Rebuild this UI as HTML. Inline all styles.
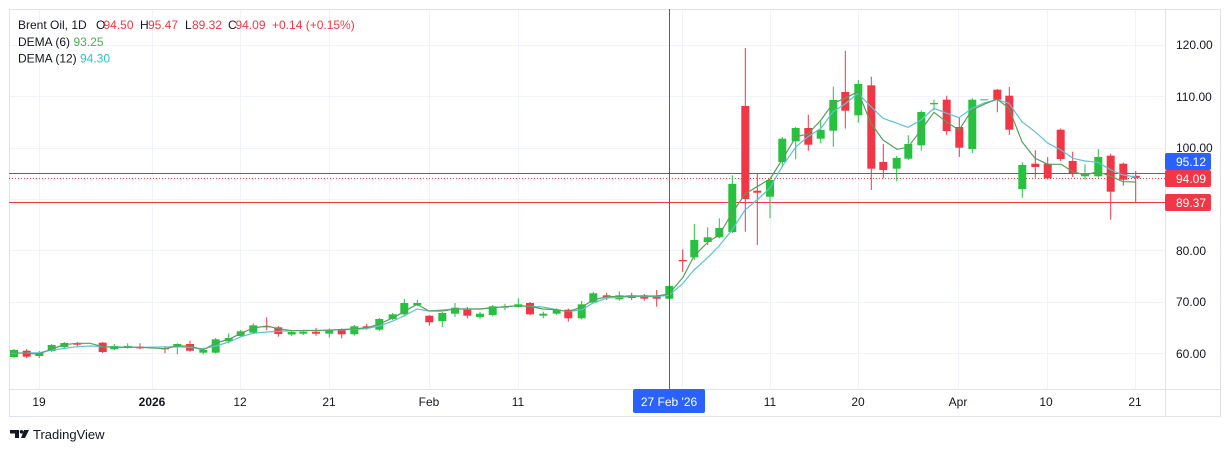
<!DOCTYPE html>
<html><head><meta charset="utf-8"><style>
html,body{margin:0;padding:0;background:#fff;}
svg{display:block;font-family:"Liberation Sans",Arial,sans-serif;}
</style></head><body>
<svg width="1231" height="452" viewBox="0 0 1231 452" xmlns="http://www.w3.org/2000/svg">
<rect width="1231" height="452" fill="#fff"/>
<!-- grid -->
<g stroke="#f0f3fa" stroke-width="1">
<line x1="9" x2="1165" y1="45.5" y2="45.5"/>
<line x1="9" x2="1165" y1="96.5" y2="96.5"/>
<line x1="9" x2="1165" y1="148.5" y2="148.5"/>
<line x1="9" x2="1165" y1="199.5" y2="199.5"/>
<line x1="9" x2="1165" y1="250.5" y2="250.5"/>
<line x1="9" x2="1165" y1="302.5" y2="302.5"/>
<line x1="9" x2="1165" y1="353.5" y2="353.5"/>
<line x1="39.5" x2="39.5" y1="9" y2="389"/>
<line x1="152.5" x2="152.5" y1="9" y2="389"/>
<line x1="240.5" x2="240.5" y1="9" y2="389"/>
<line x1="329.5" x2="329.5" y1="9" y2="389"/>
<line x1="429.5" x2="429.5" y1="9" y2="389"/>
<line x1="518.5" x2="518.5" y1="9" y2="389"/>
<line x1="682.5" x2="682.5" y1="9" y2="389"/>
<line x1="770.5" x2="770.5" y1="9" y2="389"/>
<line x1="858.5" x2="858.5" y1="9" y2="389"/>
<line x1="958.5" x2="958.5" y1="9" y2="389"/>
<line x1="1047.5" x2="1047.5" y1="9" y2="389"/>
<line x1="1135.5" x2="1135.5" y1="9" y2="389"/>
</g>
<!-- frame -->
<rect x="9.5" y="9.5" width="1211" height="407" fill="none" stroke="#e0e3eb"/>
<line x1="1165.5" x2="1165.5" y1="9" y2="417" stroke="#e0e3eb"/>
<line x1="9" x2="1221" y1="389.5" y2="389.5" stroke="#e0e3eb"/>
<!-- price lines -->
<line x1="9" x2="1165" y1="173.5" y2="173.5" stroke="#2962ff" stroke-width="1"/>
<line x1="9" x2="1165" y1="178.5" y2="178.5" stroke="#f23645" stroke-width="1" stroke-dasharray="1,2"/>
<line x1="9" x2="1165" y1="202.5" y2="202.5" stroke="#f23645" stroke-width="1"/>
<!-- green candles -->
<g fill="#26c13d" stroke="#26c13d">
<g stroke-width="1">
<line x1="14" x2="14" y1="349" y2="358"/><line x1="39.3" x2="39.3" y1="351" y2="358"/><line x1="51.7" x2="51.7" y1="344" y2="352"/><line x1="64.3" x2="64.3" y1="342" y2="348"/>
<line x1="114.3" x2="114.3" y1="344" y2="350"/><line x1="127.7" x2="127.7" y1="343.3" y2="348.7"/><line x1="177.3" x2="177.3" y1="343.3" y2="354.3"/><line x1="203.3" x2="203.3" y1="347.7" y2="354.3"/>
<line x1="215.7" x2="215.7" y1="338" y2="353.5"/><line x1="228.7" x2="228.7" y1="333.3" y2="343.3"/><line x1="240.7" x2="240.7" y1="330" y2="337"/><line x1="253.3" x2="253.3" y1="323.3" y2="334"/>
<line x1="291.7" x2="291.7" y1="331" y2="336"/><line x1="303.3" x2="303.3" y1="330" y2="335"/><line x1="329.3" x2="329.3" y1="328.5" y2="337.7"/><line x1="354.3" x2="354.3" y1="325" y2="335.5"/>
<line x1="379.3" x2="379.3" y1="318" y2="331"/><line x1="392.7" x2="392.7" y1="313" y2="320"/><line x1="404.3" x2="404.3" y1="299" y2="316.3"/><line x1="417.3" x2="417.3" y1="299.7" y2="306.3"/>
<line x1="442.3" x2="442.3" y1="312" y2="327"/><line x1="455" x2="455" y1="303" y2="317"/><line x1="480" x2="480" y1="311.7" y2="319"/><line x1="492.7" x2="492.7" y1="305" y2="316.3"/>
<line x1="505" x2="505" y1="303.7" y2="310.3"/><line x1="518.3" x2="518.3" y1="298.3" y2="307.7"/><line x1="543.3" x2="543.3" y1="311.7" y2="318.3"/><line x1="556.7" x2="556.7" y1="308.5" y2="315"/>
<line x1="581.7" x2="581.7" y1="301" y2="319.5"/><line x1="593.3" x2="593.3" y1="292" y2="303.5"/><line x1="619.3" x2="619.3" y1="291.3" y2="300.7"/><line x1="669.3" x2="669.3" y1="285" y2="299.5"/>
<line x1="694.3" x2="694.3" y1="224" y2="260"/><line x1="707.7" x2="707.7" y1="227.3" y2="245.3"/><line x1="719.3" x2="719.3" y1="218.3" y2="238.3"/><line x1="732.3" x2="732.3" y1="175.3" y2="233"/>
<line x1="770" x2="770" y1="179" y2="218.3"/><line x1="782.3" x2="782.3" y1="137" y2="167"/><line x1="795.7" x2="795.7" y1="127" y2="159.3"/><line x1="820.7" x2="820.7" y1="121.3" y2="143.3"/>
<line x1="833.3" x2="833.3" y1="86.7" y2="146.7"/><line x1="858.3" x2="858.3" y1="80" y2="122.7"/><line x1="896.7" x2="896.7" y1="156" y2="181.3"/><line x1="908.3" x2="908.3" y1="135.3" y2="160"/>
<line x1="921.3" x2="921.3" y1="110.5" y2="150.7"/><line x1="934" x2="934" y1="99.7" y2="110.3"/><line x1="972.3" x2="972.3" y1="98.3" y2="153"/><line x1="1022.3" x2="1022.3" y1="162.3" y2="197.7"/>
<line x1="1085" x2="1085" y1="164.3" y2="179.7"/><line x1="1098.3" x2="1098.3" y1="149" y2="177.5"/>
</g>
<g stroke="none">
<rect x="10" y="350" width="8" height="7"/><rect x="35.3" y="352.7" width="8" height="3.3"/><rect x="47.7" y="345" width="8" height="6"/><rect x="60.3" y="343" width="8" height="4"/>
<rect x="110.3" y="346" width="8" height="3.3"/><rect x="123.7" y="346" width="8" height="2"/><rect x="173.3" y="344" width="8" height="3.3"/><rect x="199.3" y="350" width="8" height="2.7"/>
<rect x="211.7" y="339.3" width="8" height="13.4"/><rect x="224.7" y="338" width="8" height="3.3"/><rect x="236.7" y="331.3" width="8" height="4.7"/><rect x="249.3" y="325.3" width="8" height="7.4"/>
<rect x="287.7" y="332" width="8" height="2.5"/><rect x="299.3" y="331.7" width="8" height="2"/><rect x="325.3" y="329.7" width="8" height="4"/><rect x="350.3" y="326.3" width="8" height="8"/>
<rect x="375.3" y="319" width="8" height="10.7"/><rect x="388.7" y="314.3" width="8" height="4.7"/><rect x="400.3" y="303" width="8" height="11.3"/><rect x="413.3" y="303" width="8" height="2"/>
<rect x="438.3" y="313" width="8" height="8"/><rect x="451" y="307.7" width="8" height="6"/><rect x="476" y="313.7" width="8" height="3.3"/><rect x="488.7" y="306.3" width="8" height="8.7"/>
<rect x="501" y="306.3" width="8" height="1.4"/><rect x="514.3" y="304.3" width="8" height="2.7"/><rect x="539.3" y="313.7" width="8" height="2"/><rect x="552.7" y="309.7" width="8" height="4"/>
<rect x="577.7" y="304.3" width="8" height="14"/><rect x="589.3" y="293.3" width="8" height="9.4"/><rect x="615.3" y="295.3" width="8" height="4"/><rect x="665.3" y="286" width="8" height="12.7"/>
<rect x="690.3" y="240" width="8" height="17.3"/><rect x="703.7" y="237.3" width="8" height="4.7"/><rect x="715.3" y="228" width="8" height="9.3"/><rect x="728.3" y="184" width="8" height="48"/>
<rect x="766" y="180" width="8" height="16.7"/><rect x="778.3" y="138.7" width="8" height="23.3"/><rect x="791.7" y="128" width="8" height="13.3"/><rect x="816.7" y="130" width="8" height="8.7"/>
<rect x="829.3" y="100" width="8" height="30.7"/><rect x="854.3" y="84" width="8" height="31.3"/><rect x="892.7" y="158" width="8" height="10.7"/><rect x="904.3" y="144" width="8" height="14.7"/>
<rect x="917.3" y="112" width="8" height="33.3"/><rect x="930" y="103" width="8" height="1.3"/><rect x="968.3" y="99.7" width="8" height="49.3"/><rect x="980.3" y="99.3" width="8" height="1"/>
<rect x="1018.3" y="165" width="8" height="24"/><rect x="1081" y="173" width="8" height="3.3"/><rect x="1094.3" y="157" width="8" height="19.3"/>
</g>
</g>
<!-- red candles -->
<g fill="#f23645" stroke="#f23645">
<g stroke-width="1">
<line x1="26.7" x2="26.7" y1="349" y2="358"/><line x1="77.3" x2="77.3" y1="342" y2="346"/><line x1="102.7" x2="102.7" y1="342" y2="353"/><line x1="140" x2="140" y1="343.3" y2="349.3"/>
<line x1="165" x2="165" y1="346" y2="353.3"/><line x1="190" x2="190" y1="340.7" y2="351.7"/><line x1="266.7" x2="266.7" y1="317.3" y2="330"/><line x1="278.3" x2="278.3" y1="326" y2="336.7"/>
<line x1="316" x2="316" y1="327.7" y2="335.7"/><line x1="341.7" x2="341.7" y1="328.5" y2="338.3"/><line x1="366.7" x2="366.7" y1="323.7" y2="329.7"/><line x1="429.3" x2="429.3" y1="315" y2="325.7"/>
<line x1="467.3" x2="467.3" y1="307" y2="318.3"/><line x1="530" x2="530" y1="302" y2="315.5"/><line x1="568.3" x2="568.3" y1="308.5" y2="321.7"/><line x1="606.7" x2="606.7" y1="292.7" y2="300"/>
<line x1="631.7" x2="631.7" y1="292.7" y2="300"/><line x1="644.3" x2="644.3" y1="294" y2="300.7"/><line x1="656.7" x2="656.7" y1="290" y2="306.7"/><line x1="682.7" x2="682.7" y1="249.3" y2="272"/>
<line x1="745.3" x2="745.3" y1="48" y2="231.7"/><line x1="757.3" x2="757.3" y1="173.3" y2="245"/><line x1="808.3" x2="808.3" y1="114.7" y2="150.7"/><line x1="845.3" x2="845.3" y1="50.7" y2="128.7"/>
<line x1="871.3" x2="871.3" y1="76.7" y2="190"/><line x1="883.3" x2="883.3" y1="144" y2="178"/><line x1="946.7" x2="946.7" y1="95.7" y2="135"/><line x1="959.3" x2="959.3" y1="117.7" y2="157"/>
<line x1="997.3" x2="997.3" y1="89" y2="112.3"/><line x1="1009.3" x2="1009.3" y1="87" y2="135"/><line x1="1035.3" x2="1035.3" y1="150.3" y2="177.7"/><line x1="1047.7" x2="1047.7" y1="157" y2="179.5"/>
<line x1="1060.7" x2="1060.7" y1="128.5" y2="161"/><line x1="1072.7" x2="1072.7" y1="151.7" y2="177"/><line x1="1110.7" x2="1110.7" y1="153.7" y2="219.7"/><line x1="1123.3" x2="1123.3" y1="162.5" y2="185.7"/>
<line x1="1135.7" x2="1135.7" y1="170.9" y2="202.5"/>
</g>
<g stroke="none">
<rect x="22.7" y="350.7" width="8" height="6"/><rect x="73.3" y="343" width="8" height="1.7"/><rect x="98.7" y="342.7" width="8" height="9.3"/><rect x="136" y="346.7" width="8" height="1.6"/>
<rect x="161" y="348" width="8" height="1.3"/><rect x="186" y="344" width="8" height="6.7"/><rect x="262.7" y="326" width="8" height="1.3"/><rect x="274.3" y="327.3" width="8" height="6.7"/>
<rect x="312" y="331.7" width="8" height="2"/><rect x="337.7" y="329.7" width="8" height="4.6"/><rect x="362.7" y="326.3" width="8" height="2"/><rect x="425.3" y="315.7" width="8" height="6.6"/>
<rect x="463.3" y="309.7" width="8" height="6"/><rect x="526" y="303" width="8" height="11.3"/><rect x="564.3" y="309.7" width="8" height="8.6"/><rect x="602.7" y="295.3" width="8" height="2"/>
<rect x="627.7" y="295.3" width="8" height="2.7"/><rect x="640.3" y="295.3" width="8" height="3.4"/><rect x="652.7" y="296.7" width="8" height="2"/><rect x="678.7" y="260" width="8" height="1.3"/>
<rect x="741.3" y="106" width="8" height="93"/><rect x="753.3" y="190.7" width="8" height="2"/><rect x="804.3" y="128" width="8" height="16.7"/><rect x="841.3" y="92" width="8" height="18.7"/>
<rect x="867.3" y="85.3" width="8" height="83.4"/><rect x="879.3" y="162" width="8" height="8"/><rect x="942.7" y="99.7" width="8" height="31.3"/><rect x="955.3" y="127" width="8" height="20.7"/>
<rect x="993.3" y="89.7" width="8" height="10"/><rect x="1005.3" y="95.7" width="8" height="34"/><rect x="1031.3" y="163.7" width="8" height="3.3"/><rect x="1043.7" y="163.7" width="8" height="14.6"/>
<rect x="1056.7" y="129.7" width="8" height="29.3"/><rect x="1068.7" y="161" width="8" height="12.7"/><rect x="1106.7" y="155.7" width="8" height="36"/><rect x="1119.3" y="163.7" width="8" height="16"/>
<rect x="1131.7" y="175.8" width="8" height="2.1"/>
</g>
</g>
<!-- DEMA 12 -->
<polyline fill="none" stroke="#5cc3d4" stroke-width="1.2" stroke-linejoin="round" points="11,353 14,353.3 39,352.7 52,350 77,346.7 90,346 103,346.7 140,347.3 177,346.7 203,348.7 216,346 229,342 241,336.7 253,333.3 267,332 292,330.7 323,330.3 353,329.5 367,328.5 379,326 393,321 404,316 417,309 429,311 455,309 480,309 493,307.7 518,305.7 543,307 557,309.7 568,311.7 582,309.7 593,303 607,298 632,296.5 657,296.5 669,295.3 683,283.3 694,270 708,257.3 719,246 732,230 745,210 757,200 770,188 782,166.7 796,146.7 808,136.7 821,128.3 833,111.7 845,104 858,93.3 871,106.7 883,118.3 897,123.3 908,127.3 921,120 934,108.3 947,113.3 959,117.7 972,108.3 984,103 997,99.7 1009,103.3 1022,121.7 1035,131.7 1048,143.3 1061,150 1073,158.3 1085,161 1098,162.3 1111,170 1123,175 1136,177"/>
<!-- DEMA 6 -->
<polyline fill="none" stroke="#5a9e5c" stroke-width="1.2" stroke-linejoin="round" points="11,352 14,352.7 39,354 52,349 64,344.7 77,343.3 90,343.3 103,346.7 114,347.3 140,347.3 165,348.7 177,346 190,346 203,350 216,343 229,339.3 241,333.3 253,328 267,326 278,328.7 292,330.7 303,330.5 323,330.3 353,329 367,327.7 379,324.3 393,317.7 404,311.7 417,304.3 429,311 442,311 455,309 480,309 493,307.7 518,305.7 530,306.5 543,309 557,309.7 568,311.7 582,307 593,300 607,296.7 632,296 657,296 669,294 683,277.3 694,256 708,242 719,235 732,213.3 745,194 757,186.7 770,179 782,160 796,136.7 808,134 821,120 833,103.3 845,98.3 858,91.7 871,123.3 883,140 897,149.3 908,147.3 921,130 934,112.3 947,122.3 959,130 972,110 984,104.3 997,99 1009,108.3 1022,141.7 1035,158.3 1048,164.3 1061,164.3 1073,171.7 1085,175 1098,171.7 1111,176.3 1123,181.7 1136,182"/>
<!-- crosshair -->
<line x1="669.5" x2="669.5" y1="9" y2="389" stroke="#2962ff" stroke-width="1"/>
<!-- price axis labels -->
<g font-size="12" fill="#131722">
<text x="1176" y="49">120.00</text>
<text x="1176" y="101">110.00</text>
<text x="1176" y="152">100.00</text>
<text x="1176" y="255">80.00</text>
<text x="1176" y="306">70.00</text>
<text x="1176" y="358">60.00</text>
</g>
<rect x="1165" y="153" width="46" height="17" rx="2" fill="#2962ff"/>
<text x="1176" y="166" font-size="12" fill="#fff">95.12</text>
<rect x="1165" y="170" width="46" height="17" rx="2" fill="#f23645"/>
<text x="1176" y="183" font-size="12" fill="#fff">94.09</text>
<rect x="1165" y="194" width="46" height="17" rx="2" fill="#f23645"/>
<text x="1176" y="207" font-size="12" fill="#fff">89.37</text>
<!-- time axis labels -->
<g font-size="12" fill="#131722" text-anchor="middle">
<text x="39" y="406">19</text>
<text x="152" y="406" font-weight="bold">2026</text>
<text x="240" y="406">12</text>
<text x="329" y="406">21</text>
<text x="429" y="406">Feb</text>
<text x="518" y="406">11</text>
<text x="770" y="406">11</text>
<text x="858" y="406">20</text>
<text x="958" y="406">Apr</text>
<text x="1046" y="406">10</text>
<text x="1135" y="406">21</text>
</g>
<rect x="633" y="389" width="72" height="24" rx="2" fill="#2962ff"/>
<text x="669" y="406" font-size="12" fill="#fff" text-anchor="middle">27 Feb '26</text>
<!-- legend -->
<g font-size="12">
<text y="29"><tspan x="18" fill="#131722">Brent Oil, 1D</tspan><tspan x="96" fill="#131722">O</tspan><tspan x="103.5" fill="#f23645">94.50</tspan><tspan x="140" fill="#131722">H</tspan><tspan x="148" fill="#f23645">95.47</tspan><tspan x="185" fill="#131722">L</tspan><tspan x="192" fill="#f23645">89.32</tspan><tspan x="228" fill="#131722">C</tspan><tspan x="235.5" fill="#f23645">94.09</tspan><tspan x="272" fill="#f23645">+0.14 (+0.15%)</tspan></text>
<text y="46"><tspan x="18" fill="#131722">DEMA (6)</tspan><tspan x="73.5" fill="#4caf50">93.25</tspan></text>
<text y="62.5"><tspan x="18" fill="#131722">DEMA (12)</tspan><tspan x="80" fill="#26c6da">94.30</tspan></text>
</g>
<!-- TradingView logo -->
<g fill="#131722">
<path d="M10 430 h9 v8 h-4 v-4.5 h-5 z"/>
<circle cx="21.5" cy="431.8" r="1.8"/>
<path d="M24 430 h5 l-4 8 h-4 z"/>
</g>
<text x="33" y="439" font-size="13" fill="#131722">TradingView</text>
</svg>
</body></html>
